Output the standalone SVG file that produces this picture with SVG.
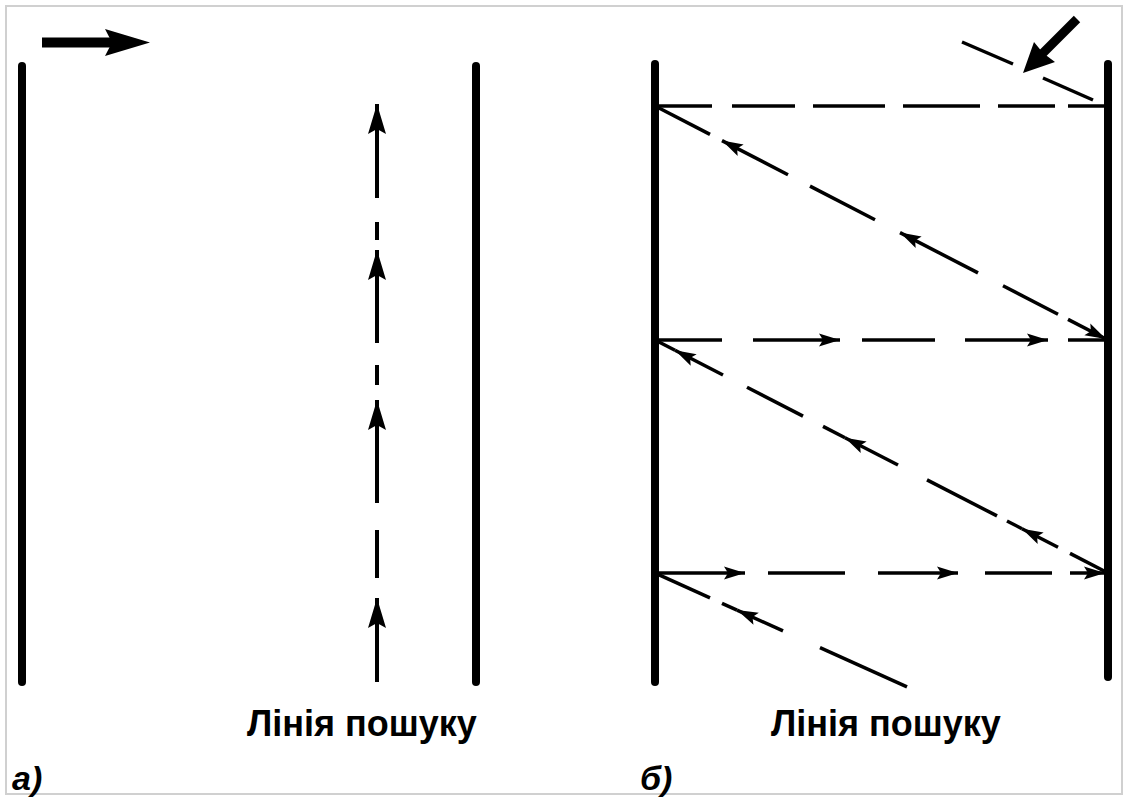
<svg xmlns="http://www.w3.org/2000/svg" width="1128" height="799" viewBox="0 0 1128 799">
  <style>
    .bar { stroke: #000; stroke-width: 8; stroke-linecap: round; fill: none; }
    .ln { stroke: #000; stroke-width: 4; fill: none; }
    .dl { stroke: #000; stroke-width: 3.5; fill: none; }
    .lbl { font-family: "Liberation Sans", Arial, sans-serif; font-weight: bold; font-size: 36px; fill: #000; }
    .tag { font-family: "Liberation Sans", Arial, sans-serif; font-weight: bold; font-style: italic; font-size: 34px; fill: #000; }
  </style>
  <defs>
    <marker id="big" markerUnits="userSpaceOnUse" viewBox="-32 -11 34 22" refX="0" refY="0" markerWidth="34" markerHeight="22" orient="auto">
      <path d="M0,0 L-30,-9 L-25,0 L-30,9 Z" fill="#000"/>
    </marker>
    <marker id="sm" markerUnits="userSpaceOnUse" viewBox="-24 -8 26 16" refX="0" refY="0" markerWidth="26" markerHeight="16" orient="auto">
      <path d="M0,0 L-21,-6.5 L-17,0 L-21,6.5 Z" fill="#000"/>
    </marker>
  </defs>
  <rect x="0" y="0" width="1128" height="799" fill="#fff"/>
  <rect x="6" y="6" width="1116" height="788" fill="none" stroke="#d0d0d0" stroke-width="2"/>

  <!-- Panel a -->
  <g id="panel-a">
    <g id="a-left-bar"><line class="bar" x1="22" y1="66" x2="22" y2="682"/></g>
    <g id="a-right-bar"><line class="bar" x1="476" y1="66" x2="476" y2="682"/></g>
    <g id="a-top-arrow">
      <line x1="42" y1="42.5" x2="112" y2="42.5" stroke="#000" stroke-width="10"/>
      <polygon points="105,29 150,42.5 105,56 112,42.5" fill="#000"/>
    </g>
    <g id="a-label"><text class="lbl" x="247" y="736">Лінія пошуку</text></g>
    <g id="a-tag"><text class="tag" x="12" y="790">а)</text></g>
  </g>

  <!-- Panel b -->
  <g id="panel-b">
    <g id="b-left-bar"><line class="bar" x1="655" y1="64" x2="655" y2="682"/></g>
    <g id="b-right-bar"><line class="bar" x1="1108" y1="64" x2="1108" y2="677"/></g>
    <g id="b-entry-arrow">
      <line x1="1077" y1="19" x2="1040" y2="56" stroke="#000" stroke-width="9"/>
      <polygon points="1023,73 1034,42 1043,53 1055,62" fill="#000"/>
    </g>
    <g id="b-label"><text class="lbl" x="771" y="736">Лінія пошуку</text></g>
    <g id="b-tag"><text class="tag" x="640" y="790">б)</text></g>
  </g>

  <!-- Connectors -->
  <g id="connectors">
    <g id="a-search-line">
      <line class="ln" x1="377" y1="682" x2="377" y2="598" marker-end="url(#big)"/>
      <line class="ln" x1="377" y1="578" x2="377" y2="530"/>
      <line class="ln" x1="377" y1="503" x2="377" y2="400" marker-end="url(#big)"/>
      <line class="ln" x1="377" y1="385" x2="377" y2="365"/>
      <line class="ln" x1="377" y1="343" x2="377" y2="250" marker-end="url(#big)"/>
      <line class="ln" x1="377" y1="240" x2="377" y2="222"/>
      <line class="ln" x1="377" y1="198" x2="377" y2="104" marker-end="url(#big)"/>
    </g>

    <g id="b-entry-line">
      <line class="dl" x1="962" y1="42" x2="1013" y2="64"/>
      <line class="dl" x1="1043" y1="78" x2="1093" y2="100"/>
    </g>

    <g id="b-h1">
      <line class="dl" x1="655" y1="106" x2="712" y2="106"/>
      <line class="dl" x1="732" y1="106" x2="795" y2="106"/>
      <line class="dl" x1="813" y1="106" x2="885" y2="106"/>
      <line class="dl" x1="903" y1="106" x2="980" y2="106"/>
      <line class="dl" x1="998" y1="106" x2="1055" y2="106"/>
      <line class="dl" x1="1068" y1="106" x2="1108" y2="106"/>
    </g>

    <g id="b-d1">
      <line class="dl" x1="658" y1="107.5" x2="710" y2="134.4"/>
      <line class="dl" x1="788" y1="174.7" x2="722" y2="140.6" marker-end="url(#sm)"/>
      <line class="dl" x1="810" y1="186.1" x2="875" y2="219.7"/>
      <line class="dl" x1="978" y1="272.9" x2="900" y2="232.6" marker-end="url(#sm)"/>
      <line class="dl" x1="1003" y1="285.8" x2="1058" y2="314.2"/>
      <line class="dl" x1="1068" y1="319.4" x2="1106" y2="339" marker-end="url(#sm)"/>
    </g>

    <g id="b-h2">
      <line class="dl" x1="655" y1="340" x2="722" y2="340"/>
      <line class="dl" x1="753" y1="340" x2="840" y2="340" marker-end="url(#sm)"/>
      <line class="dl" x1="862" y1="340" x2="935" y2="340"/>
      <line class="dl" x1="965" y1="340" x2="1048" y2="340" marker-end="url(#sm)"/>
      <line class="dl" x1="1068" y1="340" x2="1108" y2="340"/>
    </g>

    <g id="b-d2">
      <line class="dl" x1="723" y1="375" x2="675" y2="350.3" marker-end="url(#sm)"/>
      <line class="dl" x1="675" y1="350.3" x2="658" y2="341.5"/>
      <line class="dl" x1="747" y1="387.3" x2="803" y2="416.1"/>
      <line class="dl" x1="898" y1="465" x2="845" y2="437.7" marker-end="url(#sm)"/>
      <line class="dl" x1="845" y1="437.7" x2="823" y2="426.4"/>
      <line class="dl" x1="927" y1="479.9" x2="997" y2="515.9"/>
      <line class="dl" x1="1058" y1="547.3" x2="1022" y2="528.7" marker-end="url(#sm)"/>
      <line class="dl" x1="1022" y1="528.7" x2="1007" y2="521"/>
      <line class="dl" x1="1070" y1="553.4" x2="1107" y2="572.5"/>
    </g>

    <g id="b-h3">
      <line class="dl" x1="655" y1="573" x2="745" y2="573" marker-end="url(#sm)"/>
      <line class="dl" x1="768" y1="573" x2="845" y2="573"/>
      <line class="dl" x1="878" y1="573" x2="958" y2="573" marker-end="url(#sm)"/>
      <line class="dl" x1="985" y1="573" x2="1052" y2="573"/>
      <line class="dl" x1="1070" y1="573" x2="1105" y2="573" marker-end="url(#sm)"/>
    </g>

    <g id="b-d3">
      <line class="dl" x1="658" y1="574.4" x2="710" y2="597.9"/>
      <line class="dl" x1="783" y1="630.9" x2="737" y2="610.1" marker-end="url(#sm)"/>
      <line class="dl" x1="737" y1="610.1" x2="722" y2="603.3"/>
      <line class="dl" x1="820" y1="647.6" x2="907" y2="686.9"/>
    </g>
  </g>
</svg>
